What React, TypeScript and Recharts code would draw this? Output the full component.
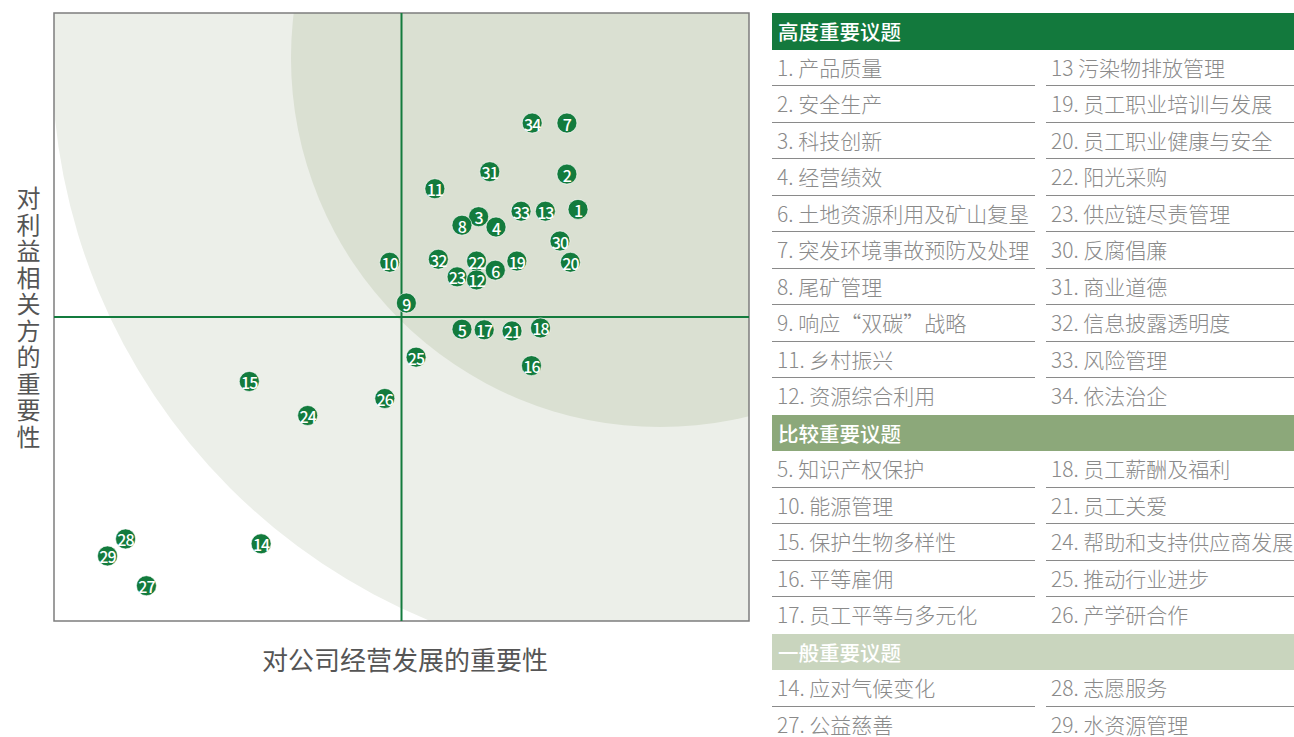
import React from 'react';
import { ScatterChart, Scatter, XAxis, YAxis, ReferenceArea, ReferenceLine } from 'recharts';

// Topic ids and their scores (x: importance to company, y: importance to stakeholders)
const topicIds = [34, 7, 31, 2, 11, 1, 13, 33, 3, 8, 4, 30, 10, 32, 22, 19, 20, 6, 23, 12, 9, 5, 17, 21, 18, 25, 16, 15, 26, 24, 28, 29, 14, 27];
const companyScores = [6.88, 7.38, 6.27, 7.38, 5.48, 7.54, 7.07, 6.72, 6.11, 5.87, 6.36, 7.28, 4.83, 5.53, 6.08, 6.66, 7.43, 6.35, 5.80, 6.08, 5.07, 5.87, 6.19, 6.59, 7.00, 5.21, 6.87, 2.81, 4.76, 3.65, 1.03, 0.77, 2.98, 1.33];
const stakeholderScores = [8.19, 8.19, 7.39, 7.35, 7.11, 6.77, 6.74, 6.74, 6.65, 6.51, 6.48, 6.25, 5.90, 5.95, 5.92, 5.92, 5.90, 5.77, 5.66, 5.61, 5.23, 4.80, 4.79, 4.77, 4.82, 4.34, 4.20, 3.94, 3.66, 3.38, 1.35, 1.07, 1.27, 0.58];

const axisDomain = [0, 10];
const threshold = 5;

// Table content
const sectionTitles = ['高度重要议题', '比较重要议题', '一般重要议题'];
const highLeft = ['1. 产品质量', '2. 安全生产', '3. 科技创新', '4. 经营绩效', '6. 土地资源利用及矿山复垦', '7. 突发环境事故预防及处理', '8. 尾矿管理', '9. 响应“双碳”战略', '11. 乡村振兴', '12. 资源综合利用'];
const highRight = ['13 污染物排放管理', '19. 员工职业培训与发展', '20. 员工职业健康与安全', '22. 阳光采购', '23. 供应链尽责管理', '30. 反腐倡廉', '31. 商业道德', '32. 信息披露透明度', '33. 风险管理', '34. 依法治企'];
const mediumLeft = ['5. 知识产权保护', '10. 能源管理', '15. 保护生物多样性', '16. 平等雇佣', '17. 员工平等与多元化'];
const mediumRight = ['18. 员工薪酬及福利', '21. 员工关爱', '24. 帮助和支持供应商发展', '25. 推动行业进步', '26. 产学研合作'];
const generalLeft = ['14. 应对气候变化', '27. 公益慈善'];
const generalRight = ['28. 志愿服务', '29. 水资源管理'];

const xLabel = '对公司经营发展的重要性';
const yLabel = '对利益相关方的重要性';

const data = topicIds.map((id, i) => ({ id, x: companyScores[i], y: stakeholderScores[i] }));

// Zone circles in data units (centre and radii)
const zoneCx = 8.72;
const zoneCy = 9.26;
const innerRx = 5.31;
const innerRy = 6.07;
const outerRx = 8.75;
const outerRy = 10.0;

const GREEN = '#137B3D';
const FONT = '"Noto Sans CJK SC", "Noto Sans", sans-serif';

const ZoneShape = (props: any) => {
  const { x, y, width, height } = props;
  const span = axisDomain[1] - axisDomain[0];
  const px = (v: number) => x + ((v - axisDomain[0]) / span) * width;
  const py = (v: number) => y + height - ((v - axisDomain[0]) / span) * height;
  const sx = width / span;
  const sy = height / span;
  return (
    <g>
      <defs>
        <clipPath id="plotClip">
          <rect x={x} y={y} width={width} height={height} />
        </clipPath>
      </defs>
      <rect x={x} y={y} width={width} height={height} fill="#ffffff" />
      <g clipPath="url(#plotClip)">
        <ellipse cx={px(zoneCx)} cy={py(zoneCy)} rx={outerRx * sx} ry={outerRy * sy} fill="#ECEFE9" />
        <ellipse cx={px(zoneCx)} cy={py(zoneCy)} rx={innerRx * sx} ry={innerRy * sy} fill="#DAE0D2" />
      </g>
      <rect x={x} y={y} width={width} height={height} fill="none" stroke="#7d7d7d" strokeWidth={1.5} />
    </g>
  );
};

const DotShape = (props: any) => {
  const { cx, cy, payload } = props;
  if (cx == null || cy == null) return null;
  return (
    <g>
      <circle cx={cx} cy={cy} r={10} fill={GREEN} stroke="#ffffff" strokeWidth={0.6} />
      <text
        x={cx}
        y={cy + 0.5}
        textAnchor="middle"
        dominantBaseline="central"
        fill="#ffffff"
        fontSize={16}
        fontWeight={500}
        fontFamily={FONT}
        letterSpacing={-0.9}
      >
        {payload.id}
      </text>
    </g>
  );
};

const ROW_H = 36.5;

const Section = ({ title, bg, left, right }: { title: string; bg: string; left: string[]; right: string[] }) => (
  <div>
    <div
      style={{
        height: ROW_H,
        lineHeight: `${ROW_H + 1}px`,
        background: bg,
        color: '#ffffff',
        fontSize: 20.5,
        fontWeight: 500,
        paddingLeft: 6,
        boxSizing: 'border-box',
      }}
    >
      {title}
    </div>
    {left.map((l, i) => (
      <div key={i} style={{ display: 'flex', height: ROW_H }}>
        {[l, right[i]].map((t, j) => (
          <div
            key={j}
            style={{
              width: j === 0 ? 263 : 248,
              marginRight: j === 0 ? 11 : 0,
              height: ROW_H,
              lineHeight: `${ROW_H - 1}px`,
              boxSizing: 'border-box',
              borderBottom: i < left.length - 1 ? '1.5px solid #8a8a8a' : 'none',
              color: '#8a8a8a',
              fontSize: 21,
              fontWeight: 300,
              paddingLeft: 5,
              whiteSpace: 'nowrap',
            }}
          >
            {t}
          </div>
        ))}
      </div>
    ))}
  </div>
);

export default function App() {
  return (
    <div
      style={{
        position: 'absolute',
        left: 0,
        top: 0,
        width: 1294,
        height: 737,
        background: '#ffffff',
        overflow: 'hidden',
        fontFamily: FONT,
      }}
    >
      <div style={{ position: 'absolute', left: 0, top: 0 }}>
        <ScatterChart width={760} height={640} margin={{ top: 13, right: 11, bottom: 19, left: 54 }}>
          <XAxis type="number" dataKey="x" domain={axisDomain} hide />
          <YAxis type="number" dataKey="y" domain={axisDomain} hide />
          <ReferenceArea
            x1={axisDomain[0]}
            x2={axisDomain[1]}
            y1={axisDomain[0]}
            y2={axisDomain[1]}
            shape={ZoneShape}
            isFront={false}
          />
          <ReferenceLine x={threshold} stroke={GREEN} strokeWidth={2} />
          <ReferenceLine y={threshold} stroke={GREEN} strokeWidth={2} />
          <Scatter data={data} shape={DotShape} isAnimationActive={false} />
        </ScatterChart>
      </div>

      <div
        style={{
          position: 'absolute',
          left: 14,
          top: 186,
          height: 270,
          writingMode: 'vertical-rl',
          color: '#555555',
          fontSize: 24,
          lineHeight: '28px',
          letterSpacing: 2.5,
        }}
      >
        {yLabel}
      </div>

      <div
        style={{
          position: 'absolute',
          left: 205,
          top: 646,
          width: 400,
          textAlign: 'center',
          color: '#555555',
          fontSize: 26,
          lineHeight: '26px',
        }}
      >
        {xLabel}
      </div>

      <div style={{ position: 'absolute', left: 772, top: 13, width: 522 }}>
        <Section title={sectionTitles[0]} bg="#13793D" left={highLeft} right={highRight} />
        <Section title={sectionTitles[1]} bg="#8CA87A" left={mediumLeft} right={mediumRight} />
        <Section title={sectionTitles[2]} bg="#C9D5BE" left={generalLeft} right={generalRight} />
      </div>
    </div>
  );
}
